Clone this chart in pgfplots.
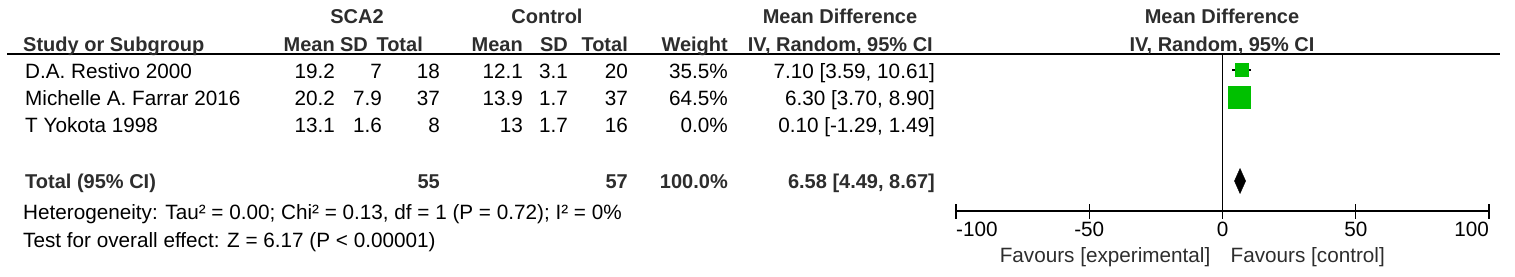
\documentclass[border=0pt]{standalone}
\usepackage{fontspec}
\setmainfont{Liberation Sans}
\usepackage{pgfplots}
\pgfplotsset{compat=1.18}
\definecolor{fpgreen}{RGB}{0,192,0}
\definecolor{hdr}{RGB}{45,45,45}
\newcommand{\tl}[3]{\node[anchor=base west,inner sep=0pt] at (#1pt,-#2pt) {#3};}
\newcommand{\tr}[3]{\node[anchor=base east,inner sep=0pt] at (#1pt,-#2pt) {#3};}
\newcommand{\tc}[3]{\node[anchor=base,inner sep=0pt] at (#1pt,-#2pt) {#3};}
\begin{document}
\fontsize{20.7}{24}\selectfont
\begin{tikzpicture}
\path[use as bounding box] (0pt,0pt) rectangle (1515pt,-276pt);
% header rule
\draw[line width=1.3pt] (7pt,-54pt) -- (1500pt,-54pt);
% headers
\begin{scope}[every node/.style={text=hdr,font=\fontsize{20}{24}\selectfont\bfseries}]
\tc{357}{23}{SCA2}
\tc{547}{23}{Control}
\tc{840}{23}{Mean Difference}
\tc{1222}{23}{Mean Difference}
\tl{23}{51}{Study or Subgroup}
\tr{335}{51}{Mean}
\tr{368}{51}{SD}
\tr{423}{51}{Total}
\tr{523}{51}{Mean}
\tr{568}{51}{SD}
\tr{628}{51}{Total}
\tr{728}{51}{Weight}
\tr{933}{51}{IV, Random, 95\% CI}
\tc{1222}{51}{IV, Random, 95\% CI}
\tl{25}{188}{Total (95\% CI)}
\tr{440}{188}{55}
\tr{628}{188}{57}
\tr{728}{188}{100.0\%}
\tr{935}{188}{6.58 [4.49, 8.67]}
\end{scope}
% study rows
\tl{25}{78}{D.A. Restivo 2000}
\tr{335}{78}{19.2}\tr{382}{78}{7}\tr{440}{78}{18}
\tr{523}{78}{12.1}\tr{568}{78}{3.1}\tr{628}{78}{20}
\tr{728}{78}{35.5\%}\tr{935}{78}{7.10 [3.59, 10.61]}
\tl{25}{105}{Michelle A. Farrar 2016}
\tr{335}{105}{20.2}\tr{382}{105}{7.9}\tr{440}{105}{37}
\tr{523}{105}{13.9}\tr{568}{105}{1.7}\tr{628}{105}{37}
\tr{728}{105}{64.5\%}\tr{935}{105}{6.30 [3.70, 8.90]}
\tl{25}{132}{T Yokota 1998}
\tr{335}{132}{13.1}\tr{382}{132}{1.6}\tr{440}{132}{8}
\tr{523}{132}{13}\tr{568}{132}{1.7}\tr{628}{132}{16}
\tr{728}{132}{0.0\%}\tr{935}{132}{0.10 [-1.29, 1.49]}
\tl{23}{219}{Heterogeneity: Tau² = 0.00; Chi² = 0.13, df = 1 (P = 0.72); I² = 0\%}
\tl{23}{247}{Test for overall effect: Z = 6.17 (P < 0.00001)}
\begin{axis}[
  at={(956pt,-211pt)}, anchor=south west,
  scale only axis, width=533pt, height=157pt,
  xmin=-100, xmax=100, ymin=-211, ymax=-54,
  axis x line=bottom, axis y line=none,
  x axis line style={-, line width=1.3pt},
  xtick={-100,-50,0,50,100}, xticklabels={},
  tick align=center, major tick length=15pt,
  tick style={line width=1.3pt, black},
  clip=false,
]
\addplot[black, line width=1.2pt] coordinates {(0,-54) (0,-211)};
\addplot[only marks, mark=square*, mark size=6.5pt,
  mark options={fill=fpgreen, draw=fpgreen},
  error bars/.cd, x dir=both, x explicit, error mark=none,
  error bar style={black, line width=1.3pt}]
  coordinates {(7.10,-70) +- (3.51,0)};
\addplot[only marks, mark=square*, mark size=11pt,
  mark options={fill=fpgreen, draw=fpgreen},
  error bars/.cd, x dir=both, x explicit, error mark=none,
  error bar style={black, line width=1.3pt}]
  coordinates {(6.30,-97) +- (2.60,0)};
\addplot[fill=black, draw=black] coordinates {(4.49,-181) (6.58,-168.5) (8.67,-181) (6.58,-193.5)} -- cycle;
\node[anchor=base west, inner sep=0pt] at (axis cs:-100,-236) {-100};
\node[anchor=base, inner sep=0pt] at (axis cs:-50,-236) {-50};
\node[anchor=base, inner sep=0pt] at (axis cs:0,-236) {0};
\node[anchor=base, inner sep=0pt] at (axis cs:50,-236) {50};
\node[anchor=base east, inner sep=0pt] at (axis cs:100,-236) {100};
\node[anchor=base east, inner sep=0pt, text=hdr] at (axis cs:-4.5,-262) {Favours [experimental]};
\node[anchor=base west, inner sep=0pt, text=hdr] at (axis cs:3,-262) {Favours [control]};
\end{axis}
\end{tikzpicture}
\end{document}
